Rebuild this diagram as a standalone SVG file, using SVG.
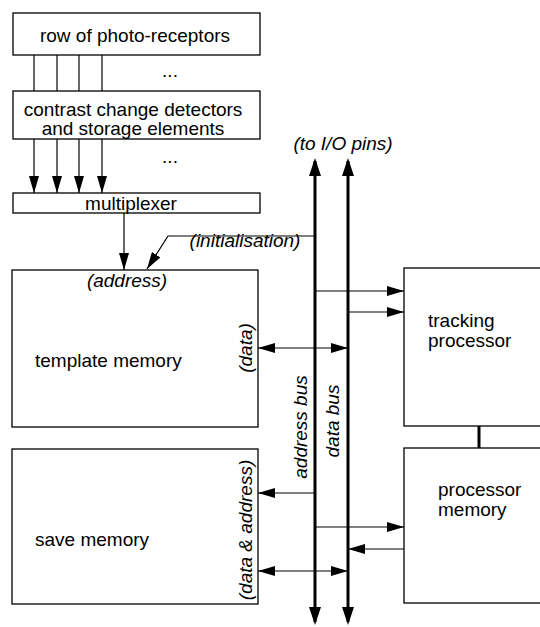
<svg xmlns="http://www.w3.org/2000/svg" width="540" height="627" viewBox="0 0 540 627">
<defs>
<style>
.box{fill:#fff;stroke:#000;stroke-width:1.3}
.ln{fill:none;stroke:#000;stroke-width:1.2}
.bus{fill:none;stroke:#000;stroke-width:3}
.lk{fill:none;stroke:#000;stroke-width:3}
text{font-family:"Liberation Sans",Arial,sans-serif;font-size:19px;fill:#000}
.c{text-anchor:middle}
.i{font-style:italic}
</style>
<marker id="ah" markerUnits="userSpaceOnUse" markerWidth="17" markerHeight="10" refX="17" refY="5" orient="auto-start-reverse" viewBox="0 0 17 10">
<path d="M0,0 L17,5 L0,10 z" fill="#000"/>
</marker>
<marker id="bh" markerUnits="userSpaceOnUse" markerWidth="18" markerHeight="12" refX="15" refY="6" orient="auto-start-reverse" viewBox="0 0 18 12">
<path d="M0,0 L18,6 L0,12 z" fill="#000"/>
</marker>
</defs>
<rect width="540" height="627" fill="#fff"/>
<g id="photo-receptors">
<rect class="box" x="13" y="13" width="247" height="42"/>
<text class="c" x="135" y="42">row of photo-receptors</text>
</g>
<g id="contrast-detectors">
<rect class="box" x="13" y="91" width="247" height="48"/>
<text class="c" x="133" y="116">contrast change detectors</text>
<text class="c" x="133" y="135">and storage elements</text>
</g>
<g id="multiplexer">
<rect class="box" x="13" y="193" width="247" height="20"/>
<text class="c" x="131" y="210">multiplexer</text>
</g>
<g id="template-memory">
<rect class="box" x="12" y="270" width="246" height="157"/>
<text x="35" y="367">template memory</text>
<text class="c i" x="127" y="287">(address)</text>
<text class="c i" transform="translate(252,348) rotate(-90)">(data)</text>
</g>
<g id="save-memory">
<rect class="box" x="12" y="449" width="246" height="155"/>
<text x="35" y="546">save memory</text>
<text class="c i" transform="translate(252,530) rotate(-90)">(data &amp; address)</text>
</g>
<g id="tracking-processor">
<rect class="box" x="404" y="268" width="150" height="158"/>
<text x="428" y="327">tracking</text>
<text x="428" y="347">processor</text>
</g>
<g id="processor-memory">
<rect class="box" x="404" y="448" width="150" height="155"/>
<text x="438" y="496">processor</text>
<text x="438" y="516">memory</text>
</g>
<g id="connectors">
<line class="ln" x1="34" y1="55" x2="34" y2="91"/>
<line class="ln" x1="57" y1="55" x2="57" y2="91"/>
<line class="ln" x1="79" y1="55" x2="79" y2="91"/>
<line class="ln" x1="102" y1="55" x2="102" y2="91"/>
<line class="ln" x1="34" y1="139" x2="34" y2="193" marker-end="url(#ah)"/>
<line class="ln" x1="57" y1="139" x2="57" y2="193" marker-end="url(#ah)"/>
<line class="ln" x1="79" y1="139" x2="79" y2="193" marker-end="url(#ah)"/>
<line class="ln" x1="102" y1="139" x2="102" y2="193" marker-end="url(#ah)"/>
<line class="ln" x1="124" y1="213" x2="124" y2="270" marker-end="url(#ah)"/>
<polyline class="ln" points="315,236 168,236 147,269" marker-end="url(#ah)"/>
<line class="bus" x1="315" y1="161" x2="315" y2="622" marker-start="url(#bh)" marker-end="url(#bh)"/>
<line class="bus" x1="348" y1="161" x2="348" y2="622" marker-start="url(#bh)" marker-end="url(#bh)"/>
<line class="ln" x1="315" y1="291" x2="404" y2="291" marker-end="url(#ah)"/>
<line class="ln" x1="348" y1="312" x2="404" y2="312" marker-end="url(#ah)"/>
<line class="ln" x1="258" y1="348" x2="348" y2="348" marker-start="url(#ah)" marker-end="url(#ah)"/>
<line class="ln" x1="315" y1="493" x2="258" y2="493" marker-end="url(#ah)"/>
<line class="ln" x1="315" y1="527" x2="404" y2="527" marker-end="url(#ah)"/>
<line class="ln" x1="404" y1="549" x2="348" y2="549" marker-end="url(#ah)"/>
<line class="ln" x1="258" y1="571" x2="348" y2="571" marker-start="url(#ah)" marker-end="url(#ah)"/>
<line class="lk" x1="479" y1="426" x2="479" y2="448"/>
</g>
<text class="c" x="170" y="77">...</text>
<text class="c" x="170" y="163">...</text>
<text class="c i" x="343" y="150">(to I/O pins)</text>
<text class="c i" x="245" y="247">(initialisation)</text>
<text class="c i" transform="translate(307,427) rotate(-90)">address bus</text>
<text class="c i" transform="translate(339,421) rotate(-90)">data bus</text>
</svg>
